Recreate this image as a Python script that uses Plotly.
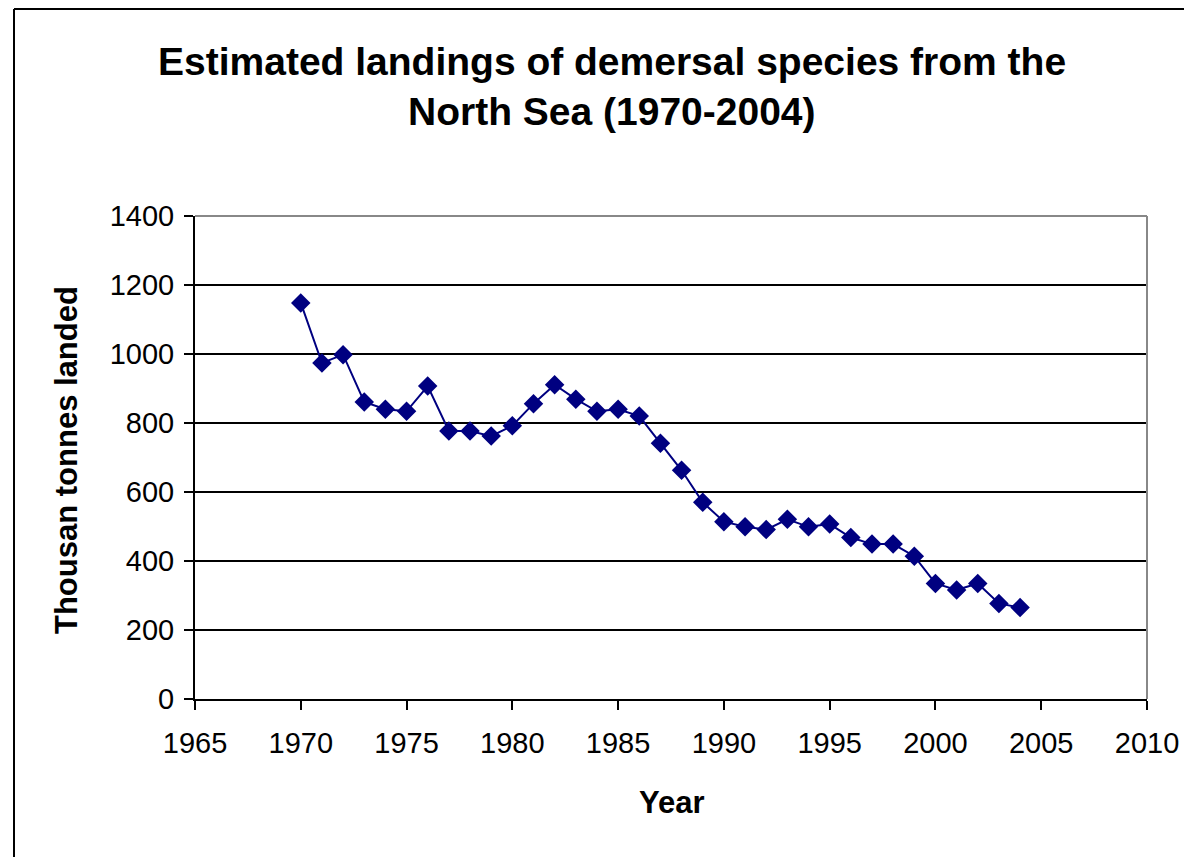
import plotly.graph_objects as go

years = list(range(1970, 2005))
landings = [1148, 974, 998, 861, 840, 834, 907, 777, 777, 762, 792, 856, 911,
            869, 834, 840, 820, 741, 663, 570, 514, 499, 491, 521, 499, 507,
            468, 449, 449, 414, 335, 316, 335, 277, 265]

title_line1 = "Estimated landings of demersal species from the"
title_line2 = "North Sea (1970-2004)"
x_title = "Year"
y_title = "Thousan tonnes landed"

W, H = 1192, 857
OFF = 8  # page body offset
pw, ph = 952, 483
L, T = 195 - OFF, 216 - OFF
R, B = W - L - pw, H - T - ph

def px(x):
    return (x - OFF - L) / pw

def py(y):
    return (T + ph - (y - OFF)) / ph

fig = go.Figure()
fig.add_trace(go.Scatter(
    x=years, y=landings, mode="lines+markers",
    line=dict(color="#000080", width=2),
    marker=dict(symbol="diamond", size=15, color="#000080"),
    showlegend=False,
))

font = "Liberation Sans, Arial, sans-serif"
top_frame = OFF + 1
fig.update_layout(
    width=W, height=H,
    margin=dict(l=L, r=R, t=T, b=B),
    paper_bgcolor="white", plot_bgcolor="white",
    font=dict(family=font, color="black"),
    xaxis=dict(
        range=[1965, 2010], tickmode="linear", tick0=1965, dtick=5,
        showgrid=False, zeroline=False,
        showline=True, linecolor="black", linewidth=2,
        ticks="outside", ticklen=9, tickwidth=2, tickcolor="black",
        tickfont=dict(size=29, family=font), ticklabelstandoff=8,
    ),
    yaxis=dict(
        range=[0, 1400], tickmode="linear", tick0=0, dtick=200,
        showgrid=True, gridcolor="black", gridwidth=1.5,
        zeroline=False,
        showline=True, linecolor="black", linewidth=2,
        ticks="outside", ticklen=9, tickwidth=2, tickcolor="black",
        tickfont=dict(size=29, family=font), ticklabelstandoff=4,
    ),
    shapes=[
        dict(type="line", xref="paper", yref="paper", x0=0, x1=1, y0=1, y1=1,
             line=dict(color="#888888", width=2)),
        dict(type="line", xref="paper", yref="paper", x0=1, x1=1, y0=0, y1=1,
             line=dict(color="#888888", width=2)),
        dict(type="line", xref="paper", yref="paper", x0=px(14), x1=px(W + 20),
             y0=py(top_frame), y1=py(top_frame), line=dict(color="black", width=2)),
        dict(type="line", xref="paper", yref="paper", x0=px(14), x1=px(14),
             y0=py(top_frame), y1=py(H + 20), line=dict(color="black", width=2)),
    ],
    annotations=[
        dict(text="<b>%s</b>" % title_line1, xref="paper", yref="paper",
             x=px(612), y=py(61), xanchor="center", yanchor="middle",
             showarrow=False, font=dict(size=39, family=font)),
        dict(text="<b>%s</b>" % title_line2, xref="paper", yref="paper",
             x=px(612), y=py(112), xanchor="center", yanchor="middle",
             showarrow=False, font=dict(size=39, family=font)),
        dict(text="<b>%s</b>" % x_title, xref="paper", yref="paper",
             x=px(672), y=py(802), xanchor="center", yanchor="middle",
             showarrow=False, font=dict(size=31, family=font)),
        dict(text="<b>%s</b>" % y_title, xref="paper", yref="paper",
             x=px(66), y=py(460), xanchor="center", yanchor="middle",
             textangle=-90, showarrow=False, font=dict(size=31, family=font)),
    ],
)

fig.write_html("out.html")
